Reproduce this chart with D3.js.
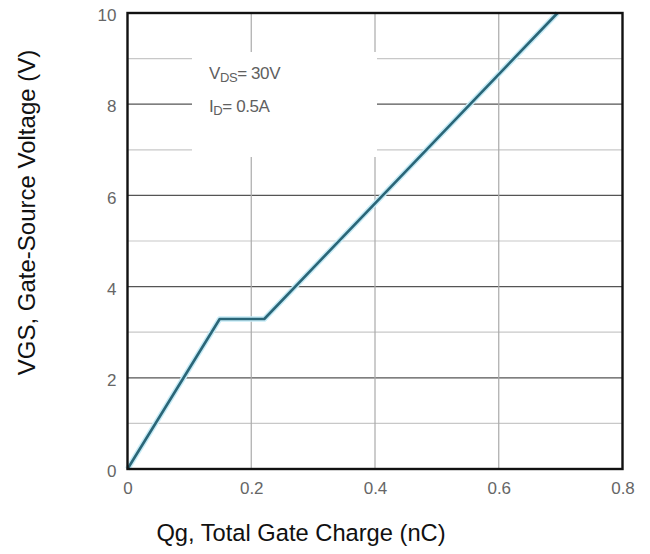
<!DOCTYPE html>
<html>
<head>
<meta charset="utf-8">
<script src="https://cdn.jsdelivr.net/npm/d3@7"></script>
<style>
  html, body { margin: 0; padding: 0; background: #fff; }
  svg { display: block; font-family: "Liberation Sans", Arial, sans-serif; }
</style>
</head>
<body>
<svg id="chart" width="650" height="554"></svg>
<script>
// Data
const qg  = [0, 0.149, 0.221, 0.695];      // Total gate charge (nC)
const vgs = [0, 3.29, 3.29, 10];           // Gate-source voltage (V)
const xTicks = [0, 0.2, 0.4, 0.6, 0.8];
const yTicks = [0, 2, 4, 6, 8, 10];
const yGridMinor = [1, 3, 5, 7, 9];
const yGridMajor = [2, 4, 6, 8];
const xGrid = [0.2, 0.4, 0.6];
const annotation = [{main: "V", sub: "DS", rest: "= 30V"}, {main: "I", sub: "D", rest: "= 0.5A"}];
const xTitle = "Qg, Total Gate Charge (nC)";
const yTitle = "VGS, Gate-Source Voltage (V)";

const svg = d3.select("#chart");
const L = 127.5, R = 622.5, T = 13, B = 469;
const x = d3.scaleLinear().domain([0, 0.8]).range([L, R]);
const y = d3.scaleLinear().domain([0, 10]).range([B, T]);

const g = svg.append("g");

// grid
g.selectAll(".ymin").data(yGridMinor).join("line")
  .attr("x1", L).attr("x2", R).attr("y1", d => y(d)).attr("y2", d => y(d))
  .attr("stroke", "#c8c8c8").attr("stroke-width", 1.2);
g.selectAll(".ymaj").data(yGridMajor).join("line")
  .attr("x1", L).attr("x2", R).attr("y1", d => y(d)).attr("y2", d => y(d))
  .attr("stroke", "#555").attr("stroke-width", 1.2);
g.selectAll(".xg").data(xGrid).join("line")
  .attr("x1", d => x(d)).attr("x2", d => x(d)).attr("y1", T).attr("y2", B)
  .attr("stroke", "#aaa").attr("stroke-width", 1.2);

// annotation box (white background that interrupts the grid)
g.append("rect").attr("x", 192).attr("y", 52).attr("width", 185).attr("height", 105).attr("fill", "#fff");
const ann = g.selectAll(".ann").data(annotation).join("text")
  .attr("x", 209).attr("y", (d, i) => 79 + i * 33)
  .attr("font-size", 17).attr("fill", "#606060").attr("letter-spacing", -0.4);
ann.append("tspan").text(d => d.main);
ann.append("tspan").text(d => d.sub).attr("font-size", 13).attr("dy", 3);
ann.append("tspan").text(d => d.rest).attr("dy", -3);

// curve
const line = d3.line().x((d, i) => x(qg[i])).y((d, i) => y(vgs[i]));
g.append("path").datum(vgs).attr("d", line).attr("fill", "none")
  .attr("stroke", "#c6ebf6").attr("stroke-width", 5.5).attr("stroke-linejoin", "round");
g.append("path").datum(vgs).attr("d", line).attr("fill", "none")
  .attr("stroke", "#2a6678").attr("stroke-width", 2.6).attr("stroke-linejoin", "round");

// frame
g.append("rect").attr("x", L).attr("y", T).attr("width", R - L).attr("height", B - T)
  .attr("fill", "none").attr("stroke", "#111").attr("stroke-width", 2.4);

// axes (labels only)
const xAxis = d3.axisBottom(x).tickValues(xTicks).tickSize(0).tickPadding(13)
  .tickFormat(d => d === 0 ? "0" : d3.format(".1f")(d));
const xa = svg.append("g").attr("transform", `translate(0,${B})`).call(xAxis);
xa.select(".domain").remove();
xa.selectAll("text").attr("font-size", 17).attr("fill", "#666").attr("font-family", "Liberation Sans, Arial, sans-serif");

const yAxis = d3.axisLeft(y).tickValues(yTicks).tickSize(0).tickPadding(11).tickFormat(d3.format("d"));
const ya = svg.append("g").attr("transform", `translate(${L},0)`).call(yAxis);
ya.select(".domain").remove();
ya.selectAll("text").attr("font-size", 17).attr("fill", "#666").attr("dy", "0.45em").attr("font-family", "Liberation Sans, Arial, sans-serif");

// titles
svg.append("text").attr("x", 301).attr("y", 541).attr("text-anchor", "middle")
  .attr("font-size", 23.7).attr("fill", "#111").text(xTitle);
svg.append("text").attr("transform", "translate(35,212.5) rotate(-90)").attr("text-anchor", "middle")
  .attr("font-size", 24).attr("fill", "#111").text(yTitle);
</script>
</body>
</html>
